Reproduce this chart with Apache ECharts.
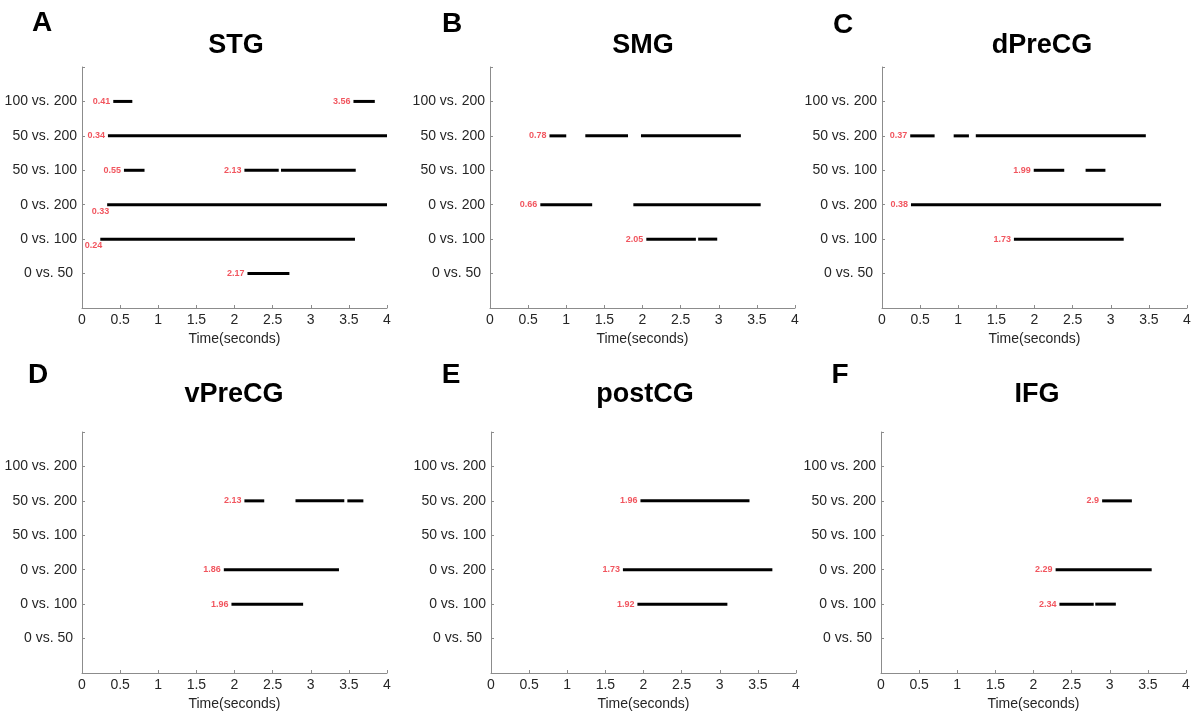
<!DOCTYPE html>
<html><head><meta charset="utf-8">
<script src="https://cdn.jsdelivr.net/npm/echarts@6/dist/echarts.min.js"></script>
<style>html,body{margin:0;padding:0;background:#fff}#c{width:1193px;height:713px}</style>
</head><body><div id="c"></div>
<script>
// ---- data ----
const rows = ['0 vs. 50 ', '0 vs. 100', '0 vs. 200', '50 vs. 100', '50 vs. 200', '100 vs. 200'];
const panelLetters = ['A', 'B', 'C', 'D', 'E', 'F'];
const panelTitles = ['STG', 'SMG', 'dPreCG', 'vPreCG', 'postCG', 'IFG'];
const xTickLabels = ['0', '0.5', '1', '1.5', '2', '2.5', '3', '3.5', '4'];
const xAxisName = 'Time(seconds)';

// significant segments: [row, start(s), end(s)]
const stgSegments = [
  ['100 vs. 200', 0.41, 0.66], ['100 vs. 200', 3.56, 3.84],
  ['50 vs. 200', 0.34, 4.0],
  ['50 vs. 100', 0.55, 0.82], ['50 vs. 100', 2.13, 2.58], ['50 vs. 100', 2.61, 3.59],
  ['0 vs. 200', 0.33, 4.0],
  ['0 vs. 100', 0.24, 3.58],
  ['0 vs. 50 ', 2.17, 2.72]
];
const smgSegments = [
  ['50 vs. 200', 0.78, 1.0], ['50 vs. 200', 1.25, 1.81], ['50 vs. 200', 1.98, 3.29],
  ['0 vs. 200', 0.66, 1.34], ['0 vs. 200', 1.88, 3.55],
  ['0 vs. 100', 2.05, 2.70], ['0 vs. 100', 2.73, 2.98]
];
const dPreCGSegments = [
  ['50 vs. 200', 0.37, 0.69], ['50 vs. 200', 0.94, 1.14], ['50 vs. 200', 1.23, 3.46],
  ['50 vs. 100', 1.99, 2.39], ['50 vs. 100', 2.67, 2.93],
  ['0 vs. 200', 0.38, 3.66],
  ['0 vs. 100', 1.73, 3.17]
];
const vPreCGSegments = [
  ['50 vs. 200', 2.13, 2.39], ['50 vs. 200', 2.80, 3.44], ['50 vs. 200', 3.48, 3.69],
  ['0 vs. 200', 1.86, 3.37],
  ['0 vs. 100', 1.96, 2.90]
];
const postCGSegments = [
  ['50 vs. 200', 1.96, 3.39],
  ['0 vs. 200', 1.73, 3.69],
  ['0 vs. 100', 1.92, 3.10]
];
const ifgSegments = [
  ['50 vs. 200', 2.9, 3.29],
  ['0 vs. 200', 2.29, 3.55],
  ['0 vs. 100', 2.34, 2.79], ['0 vs. 100', 2.81, 3.08]
];
const panelSegments = [stgSegments, smgSegments, dPreCGSegments, vPreCGSegments, postCGSegments, ifgSegments];

// onset labels (red): [row, onset(s)]
const stgOnsets = [['100 vs. 200', 0.41], ['100 vs. 200', 3.56], ['50 vs. 200', 0.34],
  ['50 vs. 100', 0.55], ['50 vs. 100', 2.13], ['0 vs. 200', 0.33], ['0 vs. 100', 0.24], ['0 vs. 50 ', 2.17]];
const smgOnsets = [['50 vs. 200', 0.78], ['0 vs. 200', 0.66], ['0 vs. 100', 2.05]];
const dPreCGOnsets = [['50 vs. 200', 0.37], ['50 vs. 100', 1.99], ['0 vs. 200', 0.38], ['0 vs. 100', 1.73]];
const vPreCGOnsets = [['50 vs. 200', 2.13], ['0 vs. 200', 1.86], ['0 vs. 100', 1.96]];
const postCGOnsets = [['50 vs. 200', 1.96], ['0 vs. 200', 1.73], ['0 vs. 100', 1.92]];
const ifgOnsets = [['50 vs. 200', 2.9], ['0 vs. 200', 2.29], ['0 vs. 100', 2.34]];
const panelOnsets = [stgOnsets, smgOnsets, dPreCGOnsets, vPreCGOnsets, postCGOnsets, ifgOnsets];

// rows whose onset label sits below the bar (panel A)
const labelBelowRows = { STG: ['0 vs. 200', '0 vs. 100'] };

// ---- layout / style ----
const gridLeft = [82, 490, 882, 82, 491, 881];
const gridTop = [67, 67, 67, 432, 432, 432];
const gridW = 305, gridH = 241;
const letterPos = [[42, 23], [452, 24], [843, 25], [38, 375], [451, 375], [840, 375]];
const titlePos = [[236, 46], [643, 46], [1042, 46], [234, 395], [645, 395], [1037, 395]];
const FONT = '"Liberation Sans", Arial, Helvetica, sans-serif';
const RED = '#ee2b36';
const AX = '#8c8c8c';
const TXT = '#262626';

const grids = [], xAxes = [], yAxes = [], series = [], graphics = [];
for (let i = 0; i < 6; i++) {
  grids.push({ left: gridLeft[i], top: gridTop[i], width: gridW, height: gridH, outerBoundsMode: 'none', containLabel: false });
  xAxes.push({
    type: 'value', gridIndex: i, min: 0, max: 4, interval: 0.5,
    name: xAxisName, nameLocation: 'middle', nameGap: 24,
    nameTextStyle: { fontFamily: FONT, fontSize: 14, color: TXT },
    axisLine: { show: true, lineStyle: { color: AX, width: 1 } },
    axisTick: { show: true, inside: true, length: 3, lineStyle: { color: AX } },
    axisLabel: { margin: 5, fontFamily: FONT, fontSize: 14, color: TXT,
      formatter: (v) => xTickLabels[Math.round(v * 2)] },
    splitLine: { show: false }
  });
  yAxes.push({
    type: 'value', gridIndex: i, min: 0, max: 7, interval: 1,
    axisLine: { show: true, lineStyle: { color: AX, width: 1 } },
    axisTick: { show: true, inside: true, length: 3, lineStyle: { color: AX } },
    axisLabel: { margin: 5, fontFamily: FONT, fontSize: 14, color: TXT,
      formatter: (v) => (v >= 1 && v <= 6) ? rows[v - 1] : '' },
    splitLine: { show: false }
  });

  const segs = panelSegments[i];
  series.push({
    type: 'custom', xAxisIndex: i, yAxisIndex: i, silent: true,
    data: segs.map(s => [rows.indexOf(s[0]) + 1, s[1], s[2]]),
    encode: { x: [1, 2], y: 0 },
    renderItem: function (params, api) {
      const y = api.value(0);
      const p1 = api.coord([api.value(1), y]);
      const p2 = api.coord([api.value(2), y]);
      return { type: 'line', shape: { x1: p1[0], y1: p1[1], x2: p2[0], y2: p2[1] },
        style: { stroke: '#000', lineWidth: 3, lineCap: 'butt' } };
    }
  });

  const below = labelBelowRows[panelTitles[i]] || [];
  const onsets = panelOnsets[i].map(o => {
    const item = { value: [o[1], rows.indexOf(o[0]) + 1, String(o[1])] };
    if (below.includes(o[0])) {
      item.label = { position: [2, 2], align: 'right', verticalAlign: 'top' };
    }
    return item;
  });
  series.push({
    type: 'scatter', xAxisIndex: i, yAxisIndex: i, silent: true,
    symbolSize: 0, data: onsets,
    label: { show: true, position: 'left', distance: 3,
      formatter: (p) => p.value[2],
      fontFamily: FONT, fontSize: 9, fontWeight: 'bold', color: RED }
  });

  graphics.push({ type: 'text', x: letterPos[i][0], y: letterPos[i][1],
    style: { text: panelLetters[i], font: 'bold 28px ' + FONT, fill: '#000', align: 'center', verticalAlign: 'middle' } });
  graphics.push({ type: 'text', x: titlePos[i][0], y: titlePos[i][1],
    style: { text: panelTitles[i], font: 'bold 27px ' + FONT, fill: '#000', align: 'center', verticalAlign: 'middle' } });
}

const chart = echarts.init(document.getElementById('c'));
chart.setOption({
  animation: false,
  backgroundColor: '#fff',
  grid: grids, xAxis: xAxes, yAxis: yAxes, series: series, graphic: graphics
});
</script>
</body></html>
